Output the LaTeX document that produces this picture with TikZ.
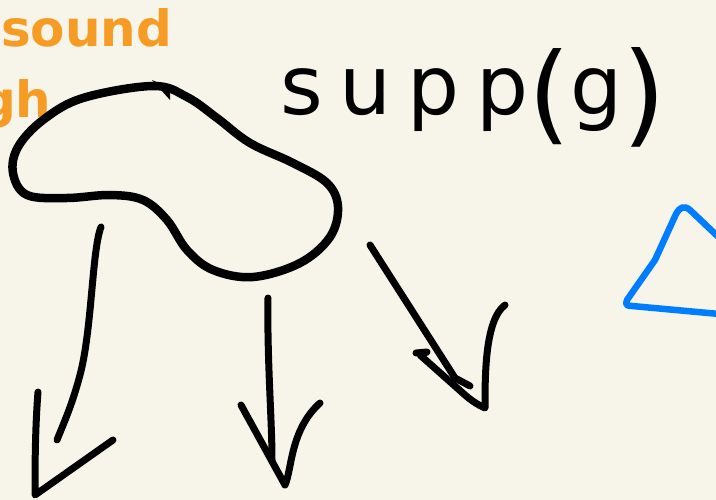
\documentclass[tikz,border=0pt]{standalone}
\usepackage{fontspec}
\setmainfont{DejaVu Sans}
\definecolor{paper}{RGB}{247,245,234}
\definecolor{ink}{RGB}{0,0,0}
\definecolor{orangeink}{RGB}{246,156,36}
\definecolor{blueink}{RGB}{0,125,255}
\tikzset{
  pen/.style={draw=ink, line width=7pt, line cap=round, line join=round},
  blobpen/.style={draw=ink, line width=8.5pt, line cap=round, line join=round},
  bluepen/.style={draw=blueink, line width=6.5pt, line cap=round, line join=round},
  orangetext/.style={text=orangeink, inner sep=0pt, font=\fontsize{50}{50}\selectfont\bfseries},
  inktext/.style={text=ink, inner sep=0pt}
}
\begin{document}
\begin{tikzpicture}[x=1pt,y=-1pt]
\fill[paper] (0,0) rectangle (716,500);
\useasboundingbox (0,0) rectangle (716,500);
\begin{scope}
\clip (0,0) rectangle (716,500);
% orange text
\node[orangetext, anchor=base west] (sound) at (1,47) {sound};
\node[orangetext, anchor=base west] (gh) at (-20,118) {gh};
% supp(g)
\node[inktext, anchor=base west, font=\fontsize{82}{82}\selectfont\addfontfeatures{LetterSpace=20}] (supp) at (280,115) {supp\raisebox{-16pt}{\fontsize{108}{108}\selectfont(}g\raisebox{-18pt}{\fontsize{112}{112}\selectfont)}};
% blob
\draw[blobpen] plot[smooth cycle, tension=0.6] coordinates {
 (43,120) (83,98) (153,86) (187,97) (217,118) (250,143) (293,163) (327,183)
 (338,207) (330,237) (300,263) (253,277) (213,270) (187,250) (167,220)
 (143,200) (110,195) (67,198) (27,195) (13,173) (18,147)};
\fill[ink] (152,80) -- (170,88) -- (170,100) -- cycle;
% arrow 1
\coordinate (a1s) at (101,227);
\coordinate (a1e) at (57,440);
\coordinate (a1l) at (38,392);
\coordinate (a1t) at (35,495);
\coordinate (a1r) at (113,440);
\draw[pen] (a1s) .. controls (92,250) and (92,330) .. (80,375) .. controls (72,405) and (65,420) .. (a1e);
\draw[pen] (a1l) .. controls (35,430) and (35,470) .. (a1t) -- (a1r);
% arrow 2
\coordinate (a2s) at (268,298);
\coordinate (a2e) at (272,460);
\coordinate (a2l) at (241,405);
\coordinate (a2t) at (285,485);
\coordinate (a2r) at (320,403);
\draw[pen] (a2s) .. controls (267,360) and (272,420) .. (a2e);
\draw[pen] (a2l) -- (a2t) .. controls (292,470) and (290,430) .. (a2r);
% arrow 3
\coordinate (a3s) at (370,245);
\coordinate (a3e) at (470,386);
\coordinate (a3l) at (416,353);
\coordinate (a3t) at (485,408);
\coordinate (a3r) at (505,305);
\draw[pen] (a3s) -- (455,378) -- (a3e);
\draw[pen] (a3l) -- (427,352) -- (420,355) -- (465,395) .. controls (472,401) and (478,405) .. (a3t) .. controls (485,375) and (485,320) .. (a3r);
% triangle
\coordinate (tt) at (683,207);
\coordinate (tl) at (625,302);
\coordinate (tr) at (716,313);
\draw[bluepen] (730,248) -- (690,210) .. controls (684,205) and (680,207) .. (676,214) -- (655,260) -- (627,300) .. controls (625,305) and (627,306) .. (632,306) -- (730,315);
\end{scope}
\end{tikzpicture}
\end{document}
